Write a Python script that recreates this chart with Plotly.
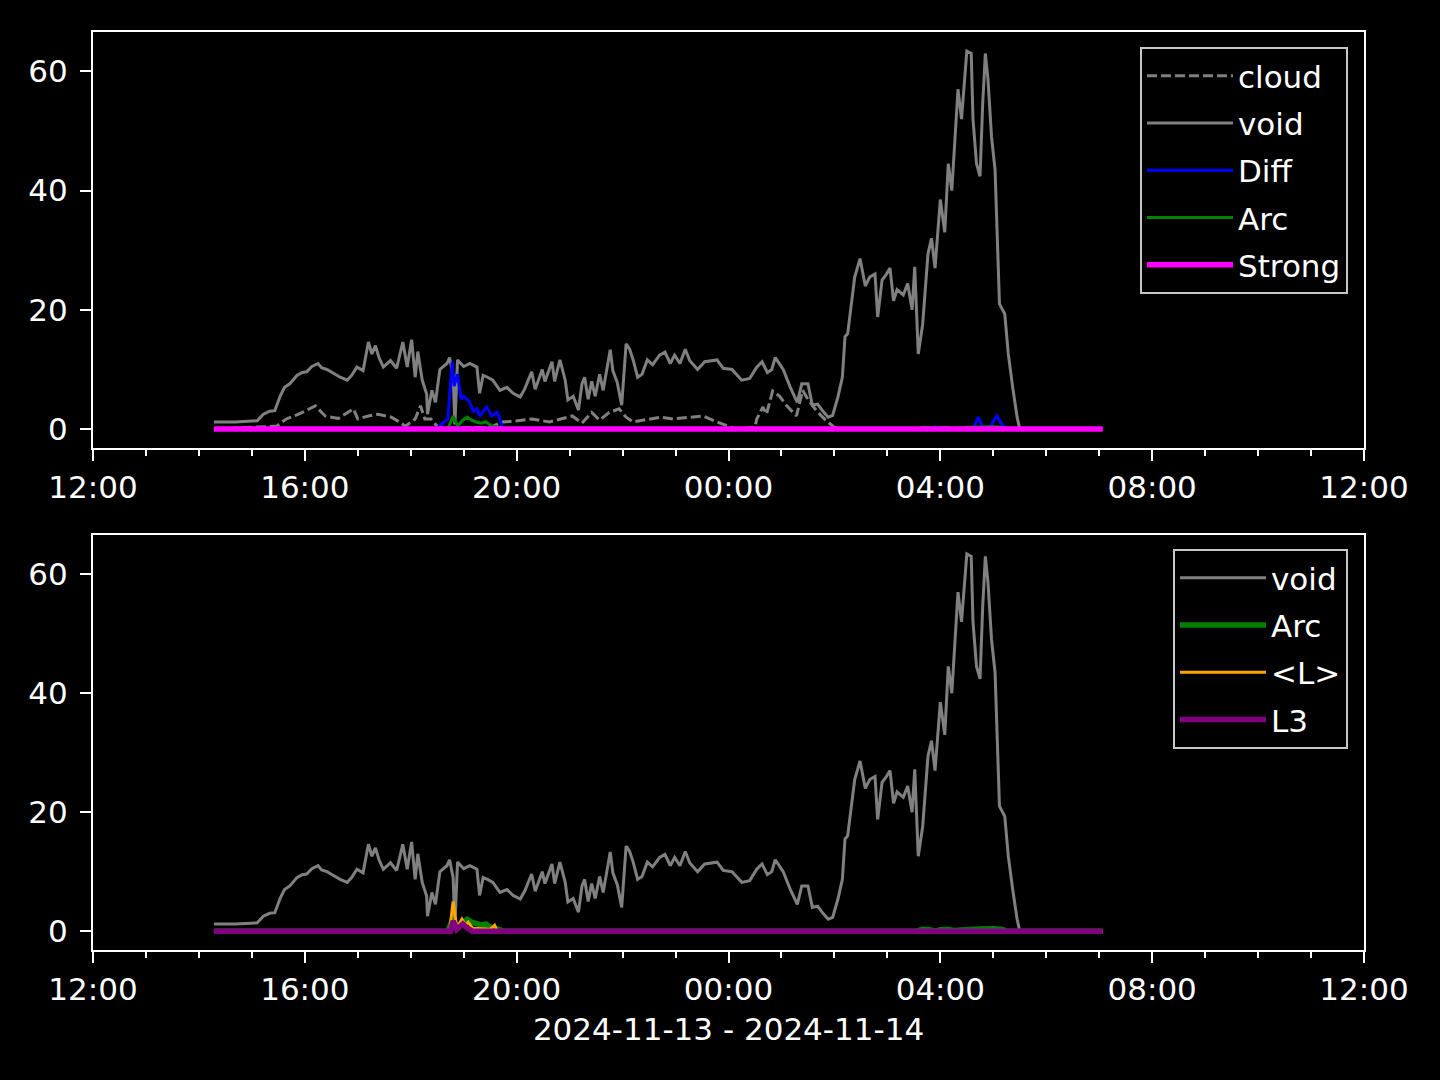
import datetime as dt
import plotly.graph_objects as go
from plotly.subplots import make_subplots

# ---------------- data ----------------
void_t = ["14:17","14:41","15:06","15:13","15:20","15:26","15:32","15:37","15:43","15:51","15:57",
          "16:02","16:08","16:15","16:19","16:25","16:32","16:40","16:48","16:53","16:59","17:06",
          "17:12","17:16","17:20","17:24","17:29","17:37","17:44","17:51","17:56","18:01","18:05",
          "18:08","18:13","18:18","18:19","18:24","18:28","18:33","18:41","18:44","18:48","18:50",
          "18:53","19:00","19:07","19:15","19:18","19:22","19:27","19:33","19:41","19:49","19:56",
          "20:04","20:09","20:17","20:21","20:29","20:32","20:40","20:43","20:49","20:55","20:58",
          "21:04","21:10","21:14","21:17","21:21","21:25","21:29","21:34","21:38","21:46","21:49",
          "21:54","21:59","22:04","22:08","22:12","22:17","22:22","22:28","22:34","22:42","22:48",
          "22:54","22:59","23:05","23:11","23:16","23:25","23:33","23:47","23:54","00:04","00:15",
          "00:24","00:32","00:38","00:44","00:49","00:53","01:02","01:10","01:18","01:23","01:30",
          "01:35","01:41","01:47","01:53","01:58","02:04","02:09","02:12","02:15","02:20","02:23",
          "02:29","02:35","02:40","02:46","02:49","02:54","02:59","03:03","03:07","03:11","03:18",
          "03:23","03:28","03:31","03:35","03:40","03:46","03:50","03:54","04:00","04:05","04:09",
          "04:13","04:17","04:20","04:24","04:28","04:30","04:35","04:37","04:41","04:45","04:48",
          "04:51","04:54","04:58","05:02","05:07","05:13","05:17","05:22","05:27","05:30"]
void_v = [1.2,1.2,1.4,2.5,3.0,3.1,5.5,7.0,7.6,9.0,9.5,
          9.6,10.5,11.0,10.3,10.0,9.4,8.7,8.2,9.0,10.4,9.8,
          14.6,12.6,14.0,12.0,10.4,11.5,10.2,14.6,10.4,15.0,8.7,
          13.0,8.2,5.9,2.5,6.5,4.5,10.0,11.0,12.0,9.0,0.8,
          11.6,10.5,11.0,10.4,6.0,9.0,8.7,8.2,6.5,7.0,6.0,
          5.4,6.7,9.6,6.7,10.0,8.0,11.3,8.0,11.6,8.2,4.9,
          5.5,3.2,7.6,8.7,5.0,8.0,5.5,9.2,6.5,13.3,9.8,
          7.8,4.0,14.3,13.4,11.6,8.7,9.2,11.6,10.8,12.4,12.9,
          11.0,12.4,11.0,13.4,11.5,10.0,11.3,11.6,10.2,10.0,8.2,
          8.5,10.4,11.3,9.5,10.0,12.0,10.0,7.0,4.5,7.6,7.6,
          4.0,4.2,3.0,2.0,2.3,5.4,8.7,15.5,16.0,21.7,25.5,
          28.6,24.0,25.5,26.0,18.8,25.0,26.0,27.0,21.5,23.4,22.5,
          24.4,20.0,27.2,12.6,17.6,29.4,32.0,27.0,38.5,33.0,44.5,
          40.0,50.8,57.0,52.0,59.0,63.4,63.0,52.0,44.5,42.4,54.6,
          63.0,58.6,49.0,43.5,21.0,19.3,12.6,7.0,2.0,0.0]

cloud_t = ["14:17","15:28","15:39","15:53","16:12","16:23","16:38","16:55","17:00","17:12","17:23",
           "17:38","17:46","17:54","18:05","18:11","18:16","18:23","18:31","18:45","19:30","19:44",
           "19:55","20:18","20:37","21:03","21:14","21:25","21:34","21:45","21:56","22:04","22:12",
           "22:31","22:43","22:57","23:13","23:31","23:42","23:58","00:08","00:30","00:32","00:39",
           "00:43","00:50","00:58","01:06","01:17","01:20","01:24","01:30","01:40","01:50","02:00",
           "02:10","07:04"]
cloud_v = [0.0,0.5,1.7,2.5,3.9,2.2,1.8,3.4,1.7,2.2,2.5,
           2.0,1.3,0.5,1.7,3.9,1.7,1.7,0.3,0.2,0.3,1.2,
           1.3,1.7,1.2,2.2,1.0,2.8,1.5,2.8,3.4,2.0,1.2,
           1.7,2.0,1.7,1.9,2.2,1.5,0.5,0.0,0.3,1.7,3.7,
           2.5,6.4,5.5,3.9,2.2,4.0,6.5,5.0,3.0,1.5,0.3,
           0.0,0.0]

diff_t = ["14:17","18:29","18:32","18:42","18:47","18:49","18:53","18:57","19:00","19:06","19:11",
          "19:15","19:18","19:26","19:32","19:38","19:41","19:44","03:50","03:54","03:58","04:37",
          "04:43","04:48","04:56","05:04","05:11","05:17","07:04"]
diff_v = [0.0,0.0,0.5,1.7,11.3,7.2,9.2,5.0,5.5,4.7,3.0,
          3.4,2.2,3.7,2.2,2.8,1.7,0.0,0.0,0.4,0.0,0.0,
          2.0,0.3,0.3,2.2,0.5,0.0,0.0]

arc_t = ["14:17","18:42","18:48","18:53","18:59","19:04","19:09","19:14","19:20","19:25","19:32",
         "19:40","19:45","03:33","03:40","03:48","03:55","04:00","04:08","04:15","04:30","04:45",
         "05:00","05:10","05:15","07:04"]
arc_v = [0.0,0.0,2.2,0.5,1.5,2.0,1.5,1.2,1.0,1.2,0.5,
         0.3,0.0,0.0,0.3,0.25,0.0,0.25,0.3,0.1,0.3,0.35,
         0.4,0.3,0.0,0.0]

strong_t = ["14:17","07:04"]
strong_v = [0.0,0.0]

lavg_t = ["14:17","18:44","18:48","18:52","18:58","19:02","19:05","19:10","19:30","19:35","19:38","07:04"]
lavg_v = [0.0,0.0,5.0,0.5,2.0,1.0,1.5,0.5,0.3,1.0,0.0,0.0]

l3_t = ["14:17","18:45","18:48","18:52","18:59","19:04","19:10","07:04"]
l3_v = [0.0,0.0,1.7,0.3,1.2,0.5,0.0,0.0]

x_range = ["2024-11-13 12:00", "2024-11-14 12:00"]
x_title = "2024-11-13 - 2024-11-14"


def to_dt(times):
    out = []
    for s in times:
        h, m = map(int, s.split(":"))
        day = 13 if h >= 12 else 14
        out.append(dt.datetime(2024, 11, day, h, m))
    return out


FONT = "DejaVu Sans"
FS = 31

fig = make_subplots(rows=2, cols=1)

thin = 3
thick = 5.5

# top panel
fig.add_trace(go.Scatter(x=to_dt(cloud_t), y=cloud_v, name="cloud", mode="lines",
                         line=dict(color="#808080", width=thin, dash="10px,4px"),
                         legend="legend", legendgroup="a"), row=1, col=1)
fig.add_trace(go.Scatter(x=to_dt(void_t), y=void_v, name="void", mode="lines",
                         line=dict(color="#808080", width=thin),
                         legend="legend", legendgroup="b"), row=1, col=1)
fig.add_trace(go.Scatter(x=to_dt(diff_t), y=diff_v, name="Diff", mode="lines",
                         line=dict(color="#0000FF", width=thin),
                         legend="legend", legendgroup="c"), row=1, col=1)
fig.add_trace(go.Scatter(x=to_dt(arc_t), y=arc_v, name="Arc", mode="lines",
                         line=dict(color="#008000", width=thin),
                         legend="legend", legendgroup="d"), row=1, col=1)
fig.add_trace(go.Scatter(x=to_dt(strong_t), y=strong_v, name="Strong", mode="lines",
                         line=dict(color="#FF00FF", width=thick),
                         legend="legend", legendgroup="e"), row=1, col=1)

# bottom panel
fig.add_trace(go.Scatter(x=to_dt(void_t), y=void_v, name="void", mode="lines",
                         line=dict(color="#808080", width=thin),
                         legend="legend2", legendgroup="f"), row=2, col=1)
fig.add_trace(go.Scatter(x=to_dt(arc_t), y=arc_v, name="Arc", mode="lines",
                         line=dict(color="#008000", width=thick),
                         legend="legend2", legendgroup="g"), row=2, col=1)
fig.add_trace(go.Scatter(x=to_dt(lavg_t), y=lavg_v, name="<L>", mode="lines",
                         line=dict(color="#FFA500", width=thin),
                         legend="legend2", legendgroup="h"), row=2, col=1)
fig.add_trace(go.Scatter(x=to_dt(l3_t), y=l3_v, name="L3", mode="lines",
                         line=dict(color="#800080", width=thick),
                         legend="legend2", legendgroup="i"), row=2, col=1)

L, R, T, B = 93, 76, 32, 130
H = 1080 - T - B

xcommon = dict(type="date", range=x_range, tickformat="%H:%M", dtick=4 * 3600000,
               tick0="2024-11-13 12:00", ticks="outside", ticklen=11, tickwidth=2,
               tickcolor="white", showline=True, linecolor="white", linewidth=2, mirror=True,
               showgrid=False, zeroline=False,
               tickfont=dict(family=FONT, size=FS, color="white"),
               minor=dict(dtick=3600000, ticks="outside", ticklen=6, tickwidth=1.5,
                          tickcolor="white", showgrid=False))
ycommon = dict(range=[-3.17, 66.6], tickvals=[0, 20, 40, 60], ticks="outside", ticklen=11,
               tickwidth=2, tickcolor="white", showline=True, linecolor="white", linewidth=2,
               mirror=True, showgrid=False, zeroline=False, ticklabelstandoff=6,
               tickfont=dict(family=FONT, size=FS, color="white"))

fig.update_xaxes(**xcommon)
fig.update_yaxes(**ycommon)
fig.update_layout(
    yaxis=dict(domain=[(950 - 448) / H, 1.0]),
    yaxis2=dict(domain=[0.0, (950 - 535) / H]),
    xaxis2=dict(title=dict(text=x_title, font=dict(family=FONT, size=FS, color="white"),
                           standoff=12)),
)

legend_common = dict(bgcolor="rgba(0,0,0,0.8)", bordercolor="#c8c8c8", borderwidth=2,
                     font=dict(family=FONT, size=FS, color="white"), xanchor="right",
                     yanchor="top", xref="paper", yref="paper", traceorder="grouped",
                     tracegroupgap=4, itemwidth=86)

fig.update_layout(
    width=1440, height=1080,
    margin=dict(l=L, r=R, t=T, b=B),
    paper_bgcolor="black", plot_bgcolor="black",
    font=dict(family=FONT, size=FS, color="white"),
    showlegend=True,
    legend=dict(x=(1348 - L) / 1271, y=(950 - 47) / H, **legend_common),
    legend2=dict(x=(1348 - L) / 1271, y=(950 - 549) / H, **legend_common),
)

fig.write_html("out.html", config={"displayModeBar": False},
               post_script="document.body.style.margin='0';document.body.style.background='black';")
